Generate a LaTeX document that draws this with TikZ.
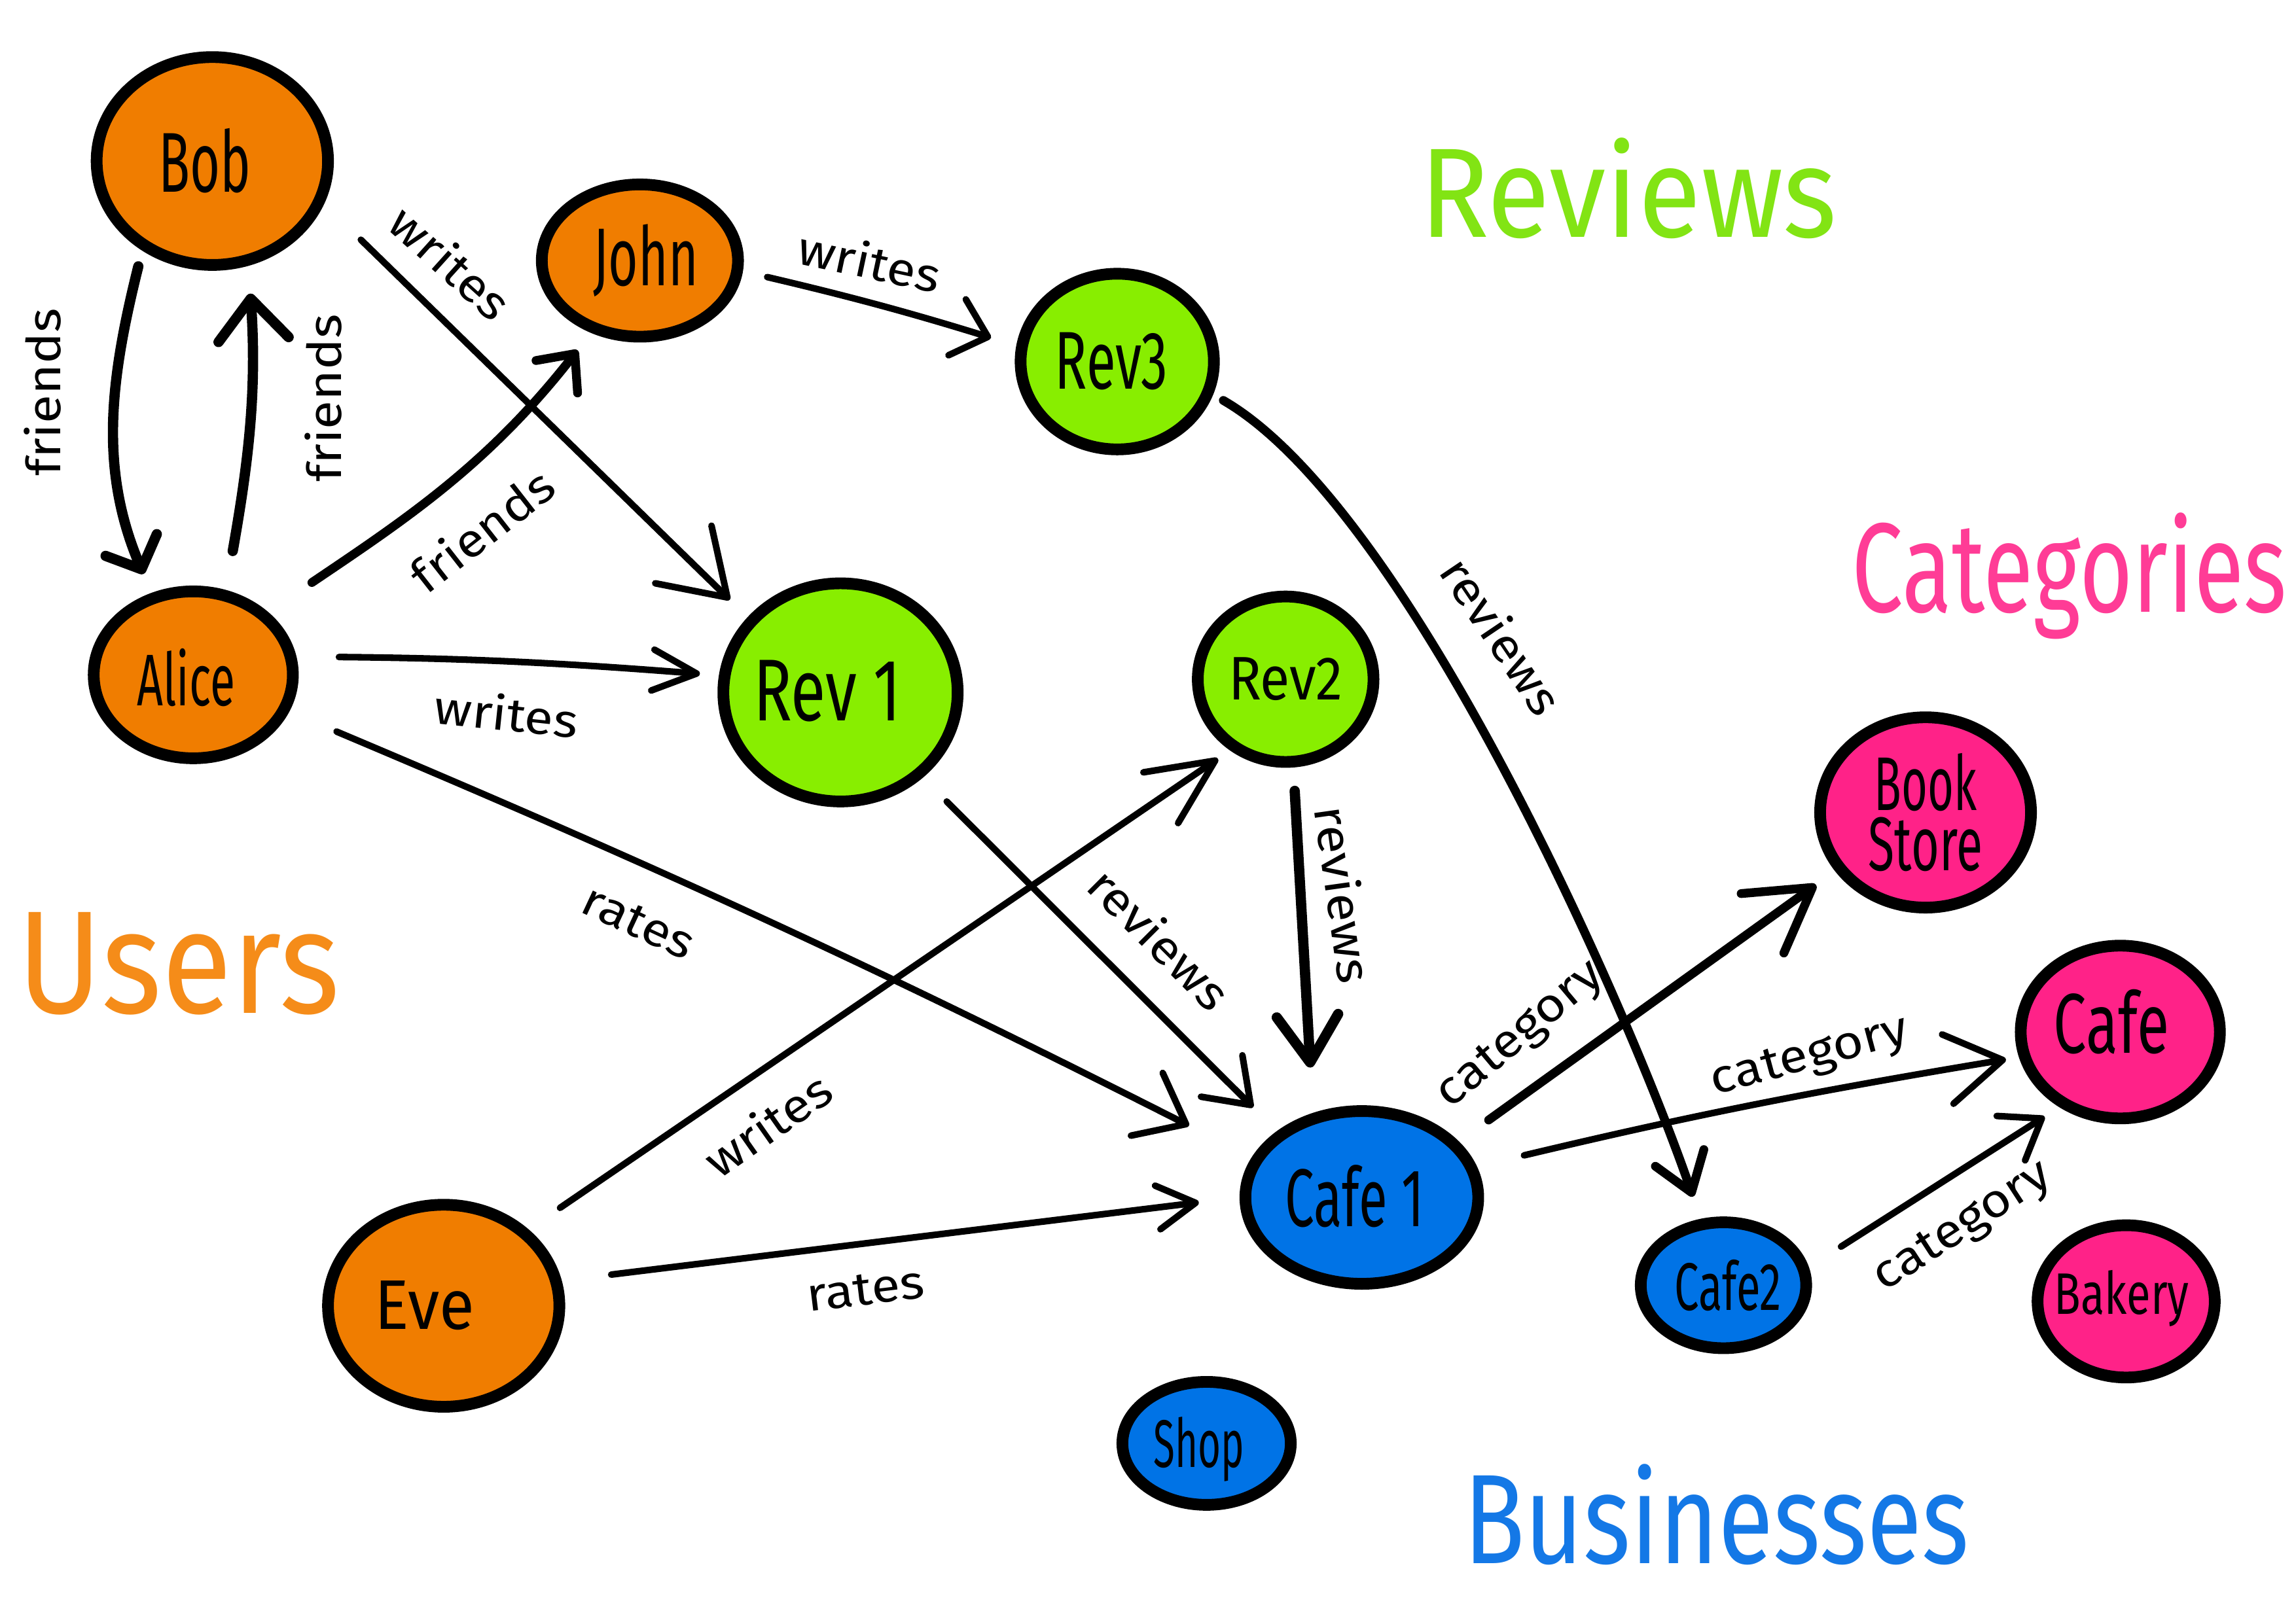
\documentclass[tikz,border=0pt]{standalone}
\usepackage{fontspec}
\setmainfont{Fira Sans}
\usetikzlibrary{shapes.geometric,arrows.meta}
\definecolor{corange}{RGB}{240,125,0}
\definecolor{cgreen}{RGB}{136,238,0}
\definecolor{cblue}{RGB}{0,115,230}
\definecolor{cpink}{RGB}{255,34,136}
\definecolor{torange}{RGB}{245,140,25}
\definecolor{tgreen}{RGB}{130,228,20}
\definecolor{tblue}{RGB}{20,120,230}
\definecolor{tpink}{RGB}{255,60,150}
\newcommand{\nl}[3]{\resizebox{#2pt}{\height}{\fontsize{#1}{#1}\selectfont #3}}
\newcommand{\el}[1]{\scalebox{1.12}[1]{#1}}
\begin{document}
\begin{tikzpicture}[x=1pt,y=1pt,
  vert/.style={ellipse, draw=black, line width=8pt, inner sep=0pt},
  lbl/.style={inner sep=0pt},
  elab/.style={font=\fontsize{32}{36}\selectfont, inner sep=0pt},
  ed/.style={line width=4.5pt, line cap=round, line join=round},
  fr/.style={line width=7pt, line cap=round, line join=round},
  title/.style={anchor=base, inner sep=0pt}]
\useasboundingbox (0,0) rectangle (1568,1109);
\fill[white] (0,0) rectangle (1568,1109);

% vertices
\node[vert, fill=corange, minimum width=158pt, minimum height=142pt,
  label={[lbl,xshift=-5pt]center:\nl{58}{63}{Bob}}] (bob) at (145,999) {};
\node[vert, fill=corange, minimum width=134pt, minimum height=104pt,
  label={[lbl,xshift=4pt]center:\nl{56}{72}{John}}] (john) at (437,931) {};
\node[vert, fill=corange, minimum width=136pt, minimum height=114pt,
  label={[lbl,xshift=-5pt,yshift=-2pt]center:\nl{50}{67}{Alice}}] (alice) at (132,648) {};
\node[vert, fill=corange, minimum width=158pt, minimum height=138pt,
  label={[lbl,xshift=-13pt]center:\nl{48}{68}{Eve}}] (eve) at (303,217) {};
\node[vert, fill=cgreen, minimum width=160pt, minimum height=149pt,
  label={[lbl,xshift=-9pt,yshift=1pt]center:\nl{60}{101}{Rev 1}}] (rev1) at (574,636) {};
\node[vert, fill=cgreen, minimum width=132pt, minimum height=120pt,
  label={[lbl,xshift=-4pt]center:\nl{56}{77}{Rev3}}] (rev3) at (763,862) {};
\node[vert, fill=cgreen, minimum width=120pt, minimum height=113pt,
  label={[lbl]center:\nl{42}{78}{Rev2}}] (rev2) at (878,645) {};
\node[vert, fill=cblue, minimum width=159pt, minimum height=118pt,
  label={[lbl,xshift=-5pt,yshift=1pt]center:\nl{56}{95}{Cafe 1}}] (cafe1) at (930,291) {};
\node[vert, fill=cblue, minimum width=113pt, minimum height=86pt,
  label={[lbl,xshift=3pt]center:\nl{46}{73}{Cafe2}}] (cafe2) at (1177,231) {};
\node[vert, fill=cblue, minimum width=115pt, minimum height=84pt,
  label={[lbl,xshift=-5pt,yshift=-4pt]center:\nl{46}{62}{Shop}}] (shop) at (824,123) {};
\node[vert, fill=cpink, minimum width=144pt, minimum height=130pt,
  label={[lbl,align=center,font=\fontsize{52}{41}\selectfont]center:{\nl{52}{70}{Book}\\\nl{52}{78}{Store}}}] (bstore) at (1315,554) {};
\node[vert, fill=cpink, minimum width=136pt, minimum height=118pt,
  label={[lbl,xshift=-6pt,yshift=7pt]center:\nl{58}{79}{Cafe}}] (cafe) at (1448,404) {};
\node[vert, fill=cpink, minimum width=121pt, minimum height=104pt,
  label={[lbl,xshift=-3pt,yshift=2pt]center:\nl{40}{92}{Bakery}}] (bakery) at (1452,220) {};

% group titles
\node[title, text=tgreen] (tReviews) at (1112,947) {\nl{87}{285}{Reviews}};
\node[title, text=tpink] (tCategories) at (1413,691) {\nl{87}{297}{Categories}};
\node[title, text=torange] (tUsers) at (122,417) {\nl{100}{220}{Users}};
\node[title, text=tblue] (tBusinesses) at (1172,41) {\nl{87}{345}{Businesses}};

% edges
\draw[fr, -{Straight Barb[round,length=18pt,width=38pt]}, shorten <=11pt, shorten >=14pt]
  (bob.-128) to[out=-104,in=113] (alice.117);
\draw[fr, -{Straight Barb[round,length=28pt,width=48pt]}, shorten <=27pt, shorten >=19pt]
  (alice.69) to[out=80,in=-86] (bob.-71);
\draw[ed, line width=6pt, -{Straight Barb[round,length=20pt,width=36pt]}, shorten <=36pt, shorten >=15pt]
  (alice.40) to[out=34,in=-128] (john.236);
\draw[ed, -{Straight Barb[round,length=42pt,width=55pt]}, shorten <=35pt, shorten >=17pt]
  (bob.-21) -- (rev1.141);
\draw[ed, -{Straight Barb[round,length=22pt,width=40pt]}, shorten <=17pt, shorten >=18pt]
  (john.-6) to[bend left=2] (rev3.171);
\draw[ed, -{Straight Barb[round,length=30pt,width=28pt]}, shorten <=29pt, shorten >=13pt]
  (alice.10) to[bend left=2] (rev1.172);
\draw[ed, -{Straight Barb[round,length=30pt,width=48pt]}, shorten <=35pt, shorten >=48pt]
  (alice.-21) to[bend left=2] (cafe1.160);
\draw[ed, -{Straight Barb[round,length=45pt,width=42pt]}, shorten <=26pt, shorten >=10pt]
  (eve.42) -- (rev2.-128);
\draw[ed, -{Straight Barb[round,length=26pt,width=30pt]}, shorten <=34pt, shorten >=28pt]
  (eve.12) -- (cafe1.180);
\draw[ed, -{Straight Barb[round,length=28pt,width=40pt]}, shorten <=23pt, shorten >=23pt]
  (rev1.-46) -- (cafe1.142);
\draw[ed, line width=7pt, -{Straight Barb[round,length=32pt,width=42pt]}, shorten <=16pt, shorten >=31pt]
  (rev2.-85) -- (cafe1.120);
\draw[ed, line width=6pt, -{Straight Barb[round,length=25pt,width=35pt]}, shorten <=8pt, shorten >=16pt]
  (rev3.-19) to[out=-30,in=109,looseness=0.6] (cafe2.109);
\draw[ed, line width=6pt, -{Straight Barb[round,length=42pt,width=50pt]}, shorten <=25pt, shorten >=16pt]
  (cafe1.30) -- (bstore.-147);
\draw[ed, -{Straight Barb[round,length=38pt,width=48pt]}, shorten <=33pt, shorten >=9pt]
  (cafe1.15) to[bend left=2] (cafe.-166);
\draw[ed, -{Straight Barb[round,length=25pt,width=36pt]}, shorten <=26pt, shorten >=12pt]
  (cafe2.12) -- (cafe.-129);

% edge labels
\node[elab, rotate=90] (l1) at (29,841) {\el{friends}};
\node[elab, rotate=90] (l2) at (221,837) {\el{friends}};
\node[elab, rotate=38] (l3) at (329,747) {\el{friends}};
\node[elab, rotate=-42] (l4) at (308,930) {\el{writes}};
\node[elab, rotate=-12] (l5) at (594,931) {\el{writes}};
\node[elab, rotate=-6] (l6) at (346,622) {\el{writes}};
\node[elab, rotate=-25] (l7) at (436,479) {\el{rates}};
\node[elab, rotate=35] (l8) at (524,341) {\el{writes}};
\node[elab, rotate=7] (l9) at (591,228) {\el{rates}};
\node[elab, rotate=-45] (l10) at (792,468) {\el{reviews}};
\node[elab, rotate=-82] (l11) at (918,498) {\el{reviews}};
\node[elab, rotate=-56] (l12) at (1026,675) {\el{reviews}};
\node[elab, rotate=40] (l13) at (1039,401) {\el{category}};
\node[elab, rotate=15] (l14) at (1236,386) {\el{category}};
\node[elab, rotate=33] (l15) at (1341,270) {\el{category}};
\end{tikzpicture}
\end{document}
